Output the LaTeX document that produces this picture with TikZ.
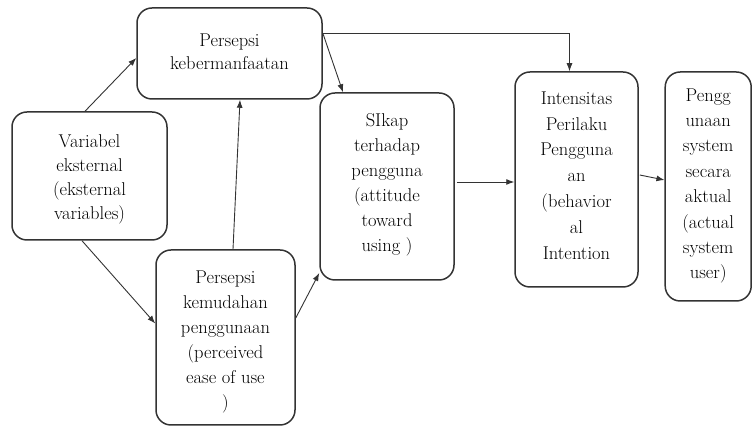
\documentclass[tikz,border=0pt]{standalone}
\usetikzlibrary{arrows.meta}
\begin{document}
\begin{tikzpicture}[x=1pt,y=1pt,
  box/.style={draw=black!80, line width=1.5pt, rounded corners=15pt, inner sep=0pt},
  txt/.style={align=center, text=black, inner sep=0pt, font=\rmfamily\fontsize{18.5}{25}\selectfont},
  conn/.style={draw=black!80, line width=0.9pt, -{Latex[length=8pt,width=6pt]}}]
\useasboundingbox (0,0) rectangle (753,427);
% boxes (centre, size)
\node[box, minimum width=185pt, minimum height=91pt] (A) at (229.5,373.5) {};
\node[box, minimum width=155pt, minimum height=128pt] (B) at (89.5,251) {};
\node[box, minimum width=139pt, minimum height=175pt] (C) at (225.5,89.5) {};
\node[box, minimum width=134pt, minimum height=187pt] (D) at (387,240.5) {};
\node[box, minimum width=123pt, minimum height=215pt] (E) at (576.5,247.5) {};
\node[box, minimum width=86pt, minimum height=229pt] (F) at (708.2,240.5) {};
% texts
\node[txt, font=\rmfamily\fontsize{18.5}{23}\selectfont] (tA) at (229.5,375.5) {Persepsi\\kebermanfaatan};
\node[txt, font=\rmfamily\fontsize{18.5}{24}\selectfont] (tB) at (89.5,248) {Variabel\\eksternal\\(eksternal\\variables)};
\node[txt] (tC) at (225.5,84.5) {Persepsi\\kemudahan\\penggunaan\\(perceived\\ease of use\\)};
\node[txt] (tD) at (387,242) {SIkap\\terhadap\\pengguna\\(attitude\\toward\\using )};
\node[txt, font=\rmfamily\fontsize{18.5}{25.8}\selectfont] (tE) at (576.5,251.5) {Intensitas\\Perilaku\\Pengguna\\an\\(behavior\\al\\Intention};
\node[txt, font=\rmfamily\fontsize{18.5}{25.4}\selectfont] (tF) at (708.2,241) {Pengg\\unaan\\system\\secara\\aktual\\(actual\\system\\user)};
% connectors
\draw[conn] ([xshift=-4.5pt]B.north) -- ([yshift=-4.5pt]A.west);
\draw[conn] ([xshift=-7.5pt]B.south) -- ([yshift=14pt]C.west);
\draw[conn] ([xshift=7.5pt]C.north) -- ([xshift=10.5pt]A.south);
\draw[conn] ([yshift=19.5pt]C.east) -- ([yshift=-86.5pt]D.west);
\draw[conn] ([yshift=20.5pt]A.east) -- ([xshift=-44pt]D.north);
\draw[conn] ([yshift=20.5pt]A.east) -| ([xshift=-7pt]E.north);
\draw[conn] ([xshift=2pt,yshift=4.5pt]D.east) -- ([yshift=-2.5pt]E.west);
\draw[conn] ([xshift=1pt,yshift=4.5pt]E.east) -- ([yshift=6.5pt]F.west);
\end{tikzpicture}
\end{document}
